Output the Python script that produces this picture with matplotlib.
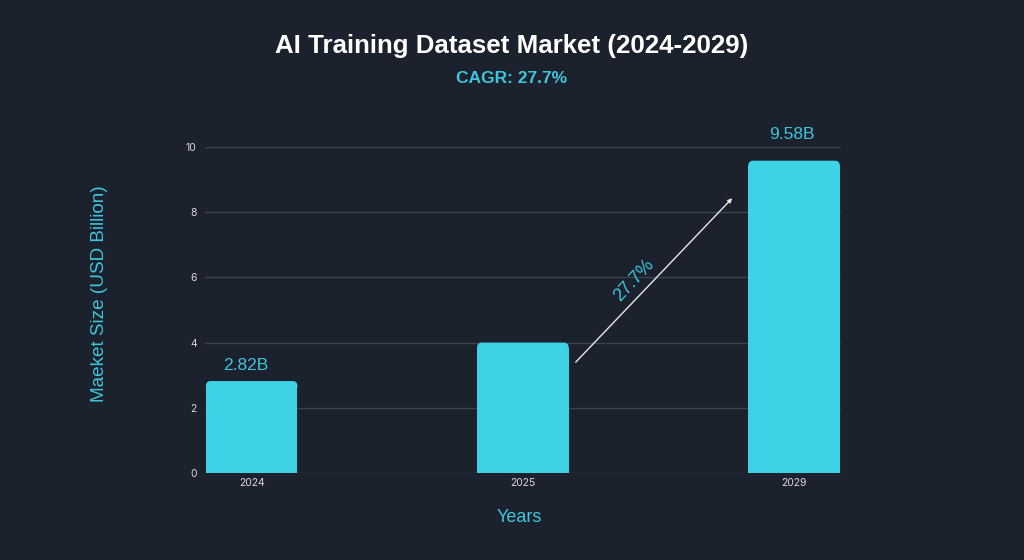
import matplotlib
matplotlib.use("Agg")
import matplotlib.pyplot as plt
from matplotlib.patches import FancyBboxPatch

years = ["2024", "2025", "2029"]
values = [2.82, 4.0, 9.58]
value_labels = ["2.82B", None, "9.58B"]
yticks = [0, 2, 4, 6, 8, 10]
title = "AI Training Dataset Market (2024-2029)"
subtitle = "CAGR: 27.7%"
cagr_text = "27.7%"

BG = "#1b222e"
BAR = "#3dd2e6"
CYAN = "#3ec6dc"
GRID = "#3a4350"
TICK = "#d6d9de"

fig = plt.figure(figsize=(10.24, 5.6), dpi=100)
fig.patch.set_facecolor(BG)
ax = fig.add_axes([0.2002, 0.1554, 0.6208, 0.5821])
ax.set_facecolor(BG)

x = list(range(len(years)))
width = 0.338
bars = ax.bar(x, values, width=width, color=BAR, zorder=3)
# rounded top corners: bar body up to just below top, rounded cap on top
ry = 0.16
for b in bars:
    x0, w, h = b.get_x(), b.get_width(), b.get_height()
    b.set_height(h - ry)
    p = FancyBboxPatch((x0, h - 2 * ry), w, 2 * ry,
                       boxstyle="round,pad=0,rounding_size=0.018",
                       mutation_aspect=ry / 0.018, facecolor=BAR,
                       edgecolor="none", zorder=3)
    ax.add_patch(p)

ax.set_xlim(-0.172, 2.172)
ax.set_ylim(0, 10)
ax.set_yticks(yticks)
ax.set_xticks(x)
ax.set_xticklabels(years)
ax.tick_params(axis="both", length=0, colors=TICK, labelsize=7.5)
ax.tick_params(axis="x", pad=3.5)
ax.tick_params(axis="y", pad=6)
for lab in ax.get_xticklabels() + ax.get_yticklabels():
    lab.set_fontfamily("Inter")
ax.grid(axis="y", color=GRID, linewidth=1, zorder=0)
ax.grid(axis="x", visible=False)
for s in ax.spines.values():
    s.set_visible(False)

offsets = [0.26, 0, 0.58]
xshift = [-0.02, 0, -0.007]
for xi, v, lab, off, dx in zip(x, values, value_labels, offsets, xshift):
    if lab:
        ax.text(xi + dx, v + off, lab, ha="center", va="bottom", color=CYAN,
                fontsize=12.5, family="Liberation Sans", clip_on=False)

# growth arrow
ax.annotate("", xy=(1.772, 8.43), xytext=(1.195, 3.40),
            arrowprops=dict(arrowstyle="-|>", color="#e6e8ea", lw=1.0,
                            mutation_scale=6, shrinkA=0, shrinkB=0), zorder=4)
ax.text(1.41, 5.92, cagr_text, rotation=47, ha="center", va="center",
        color=CYAN, fontsize=13, family="Liberation Sans", rotation_mode="anchor")

fig.text(100 / 1024, 1 - 294 / 560, "Maeket Size (USD Billion)", rotation=90,
         ha="center", va="center", color=CYAN, fontsize=13.6, family="Liberation Sans")
fig.text(519 / 1024, 1 - 517 / 560, "Years", ha="center", va="center",
         color=CYAN, fontsize=13, family="Liberation Sans")

fig.text(0.5, 1 - 46 / 560, title, ha="center", va="center", color="white",
         fontsize=18.6, fontweight="bold", family="Liberation Sans")
fig.text(0.5, 1 - 79 / 560, subtitle, ha="center", va="center", color=CYAN,
         fontsize=12.5, fontweight="bold", family="Liberation Sans")

fig.savefig("out.png", dpi=100, facecolor=BG)
